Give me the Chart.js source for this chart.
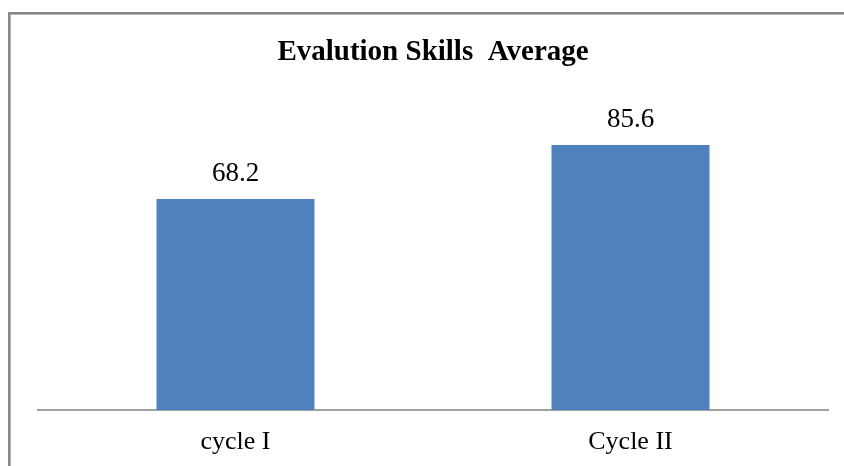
<!DOCTYPE html>
<html>
<head>
<meta charset="utf-8">
<script src="https://cdn.jsdelivr.net/npm/chart.js@4/dist/chart.umd.min.js"></script>
<style>
  html, body { margin: 0; padding: 0; background: #ffffff; overflow: hidden; }
  #wrap { width: 844px; height: 466px; position: relative; }
</style>
</head>
<body>
<div id="wrap"><canvas id="c" width="844" height="466"></canvas></div>
<script>
// ---- data ----
const categories = ['cycle I', 'Cycle II'];
const values = [68.2, 85.6];
const chartTitle = 'Evalution Skills  Average';
const yMin = 0;
const yMax = 100;

// ---- plugins ----
const framePlugin = {
  id: 'frame',
  beforeDraw(chart) {
    const ctx = chart.ctx;
    ctx.save();
    ctx.fillStyle = '#ffffff';
    ctx.fillRect(0, 0, chart.width, chart.height);
    ctx.fillStyle = '#878787';
    ctx.fillRect(8, 12, chart.width - 8, 2);
    ctx.fillRect(8, 12, 2, chart.height - 12);
    ctx.fillStyle = '#b4b4b4';
    ctx.fillRect(10, 14, chart.width - 10, 1);
    ctx.fillRect(10, 14, 1, chart.height - 14);
    ctx.restore();
  }
};

const valueLabelPlugin = {
  id: 'valueLabels',
  afterDatasetsDraw(chart) {
    const ctx = chart.ctx;
    const meta = chart.getDatasetMeta(0);
    ctx.save();
    ctx.font = '27px "Liberation Serif", "Times New Roman", serif';
    ctx.fillStyle = '#000000';
    ctx.textAlign = 'center';
    ctx.textBaseline = 'alphabetic';
    meta.data.forEach((bar, i) => {
      ctx.fillText(values[i].toFixed(1), bar.x, bar.y - 18);
    });
    ctx.restore();
  }
};

new Chart(document.getElementById('c'), {
  type: 'bar',
  data: {
    labels: categories,
    datasets: [{
      data: values,
      backgroundColor: '#4F81BD',
      borderWidth: 0,
      barPercentage: 0.4,
      categoryPercentage: 1.0
    }]
  },
  options: {
    responsive: false,
    animation: false,
    devicePixelRatio: 1,
    layout: { padding: { left: 38, right: 16, top: 0, bottom: 0 } },
    plugins: {
      legend: { display: false },
      tooltip: { enabled: false },
      title: {
        display: true,
        text: chartTitle,
        color: '#000000',
        font: { family: '"Liberation Serif", "Times New Roman", serif', size: 29, weight: 'bold' },
        padding: { top: 34.8, bottom: 30.9 }
      }
    },
    scales: {
      x: {
        grid: { display: false, drawTicks: false },
        border: { display: true, color: '#a0a0a0', width: 2 },
        ticks: {
          color: '#000000',
          padding: 17,
          font: { family: '"Liberation Serif", "Times New Roman", serif', size: 26 }
        },
        afterFit(scale) { scale.height = 56; }
      },
      y: {
        display: false,
        min: yMin,
        max: yMax
      }
    }
  },
  plugins: [framePlugin, valueLabelPlugin]
});
</script>
</body>
</html>
